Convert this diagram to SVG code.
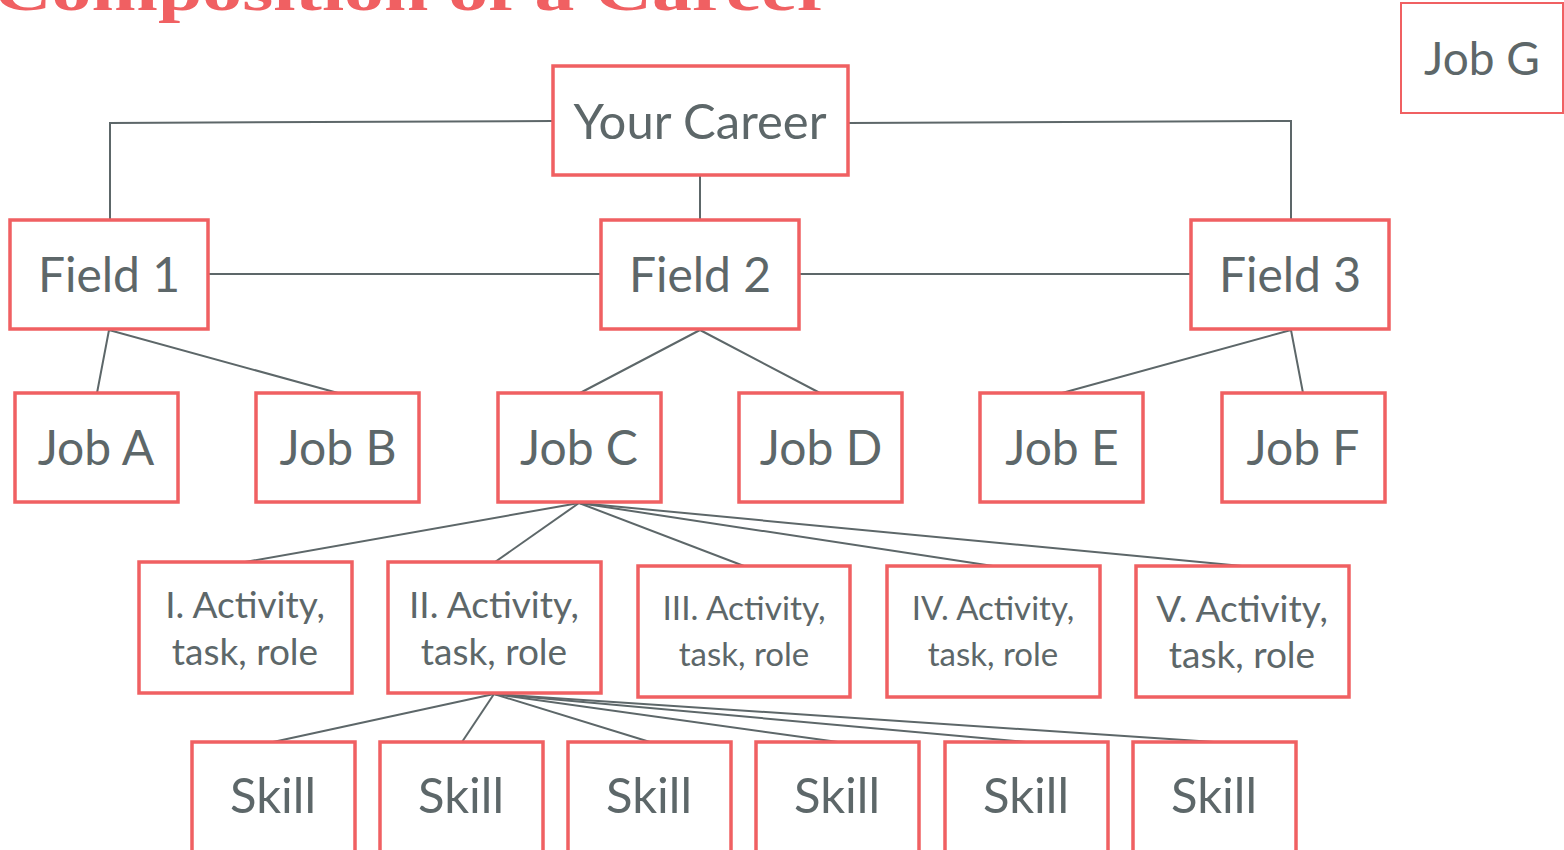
<svg xmlns="http://www.w3.org/2000/svg" width="1564" height="850" viewBox="0 0 1564 850">
<style>
.b{fill:#fff;stroke:#f06062;stroke-width:3.5}
.t{font-family:Lato,"Noto Sans",sans-serif;fill:#5d6769;text-anchor:middle}
.c{fill:none;stroke:#5d6769;stroke-width:2}
.title{font-family:"Liberation Serif",serif;font-weight:bold;fill:#f06062}
</style>
<rect width="1564" height="850" fill="#fff"/>
<text class="title" x="-6" y="10" font-size="60" textLength="838" lengthAdjust="spacingAndGlyphs">Composition of a Career</text>
<g id="connectors">
<polyline class="c" points="553,121 110,123 110,220"/>
<polyline class="c" points="848,123 1291,121 1291,220"/>
<line class="c" x1="700" y1="175" x2="700" y2="220"/>
<line class="c" x1="208" y1="274" x2="601" y2="274"/>
<line class="c" x1="799" y1="274" x2="1191" y2="274"/>
<polyline class="c" points="97,393 109,330 338,393"/>
<polyline class="c" points="580,393 700,330 820,393"/>
<polyline class="c" points="1062,393 1291,330 1303,393"/>
<line class="c" x1="579" y1="503" x2="245" y2="562"/>
<line class="c" x1="579" y1="503" x2="495" y2="562"/>
<line class="c" x1="579" y1="503" x2="744" y2="566"/>
<line class="c" x1="579" y1="503" x2="993" y2="566"/>
<line class="c" x1="579" y1="503" x2="1242" y2="566"/>
<line class="c" x1="494" y1="694" x2="273" y2="742"/>
<line class="c" x1="494" y1="694" x2="462" y2="742"/>
<line class="c" x1="494" y1="694" x2="650" y2="742"/>
<line class="c" x1="494" y1="694" x2="838" y2="742"/>
<line class="c" x1="494" y1="694" x2="1026" y2="742"/>
<line class="c" x1="494" y1="694" x2="1214" y2="742"/>
</g>
<g id="career"><rect class="b" x="553" y="66" width="295" height="109"/><text class="t" x="700" y="139" font-size="49">Your Career</text></g>
<g id="jobG"><rect class="b" x="1401" y="3" width="162" height="110" style="stroke-width:2"/><text class="t" x="1482" y="75" font-size="46">Job G</text></g>
<g id="field1"><rect class="b" x="10" y="220" width="198" height="109"/><text class="t" x="109" y="292" font-size="48">Field 1</text></g>
<g id="field2"><rect class="b" x="601" y="220" width="198" height="109"/><text class="t" x="700" y="292" font-size="48">Field 2</text></g>
<g id="field3"><rect class="b" x="1191" y="220" width="198" height="109"/><text class="t" x="1290" y="292" font-size="48">Field 3</text></g>
<g id="jobA"><rect class="b" x="15" y="393" width="163" height="109"/><text class="t" x="96" y="465" font-size="48">Job A</text></g>
<g id="jobB"><rect class="b" x="256" y="393" width="163" height="109"/><text class="t" x="338" y="465" font-size="48">Job B</text></g>
<g id="jobC"><rect class="b" x="498" y="393" width="163" height="109"/><text class="t" x="579" y="465" font-size="48">Job C</text></g>
<g id="jobD"><rect class="b" x="739" y="393" width="163" height="109"/><text class="t" x="821" y="465" font-size="48">Job D</text></g>
<g id="jobE"><rect class="b" x="980" y="393" width="163" height="109"/><text class="t" x="1062" y="465" font-size="48">Job E</text></g>
<g id="jobF"><rect class="b" x="1222" y="393" width="163" height="109"/><text class="t" x="1303" y="465" font-size="48">Job F</text></g>
<g id="act1"><rect class="b" x="139" y="562" width="213" height="131"/><text class="t" x="245" y="618" font-size="37">I. Activity,</text><text class="t" x="245" y="665" font-size="37">task, role</text></g>
<g id="act2"><rect class="b" x="388" y="562" width="213" height="131"/><text class="t" x="494" y="618" font-size="37">II. Activity,</text><text class="t" x="494" y="665" font-size="37">task, role</text></g>
<g id="act3"><rect class="b" x="638" y="566" width="212" height="131"/><text class="t" x="744" y="620" font-size="33" textLength="163" lengthAdjust="spacingAndGlyphs">III. Activity,</text><text class="t" x="744" y="666" font-size="33">task, role</text></g>
<g id="act4"><rect class="b" x="887" y="566" width="213" height="131"/><text class="t" x="993" y="620" font-size="33">IV. Activity,</text><text class="t" x="993" y="666" font-size="33">task, role</text></g>
<g id="act5"><rect class="b" x="1136" y="566" width="213" height="131"/><text class="t" x="1242" y="622" font-size="37">V. Activity,</text><text class="t" x="1242" y="668" font-size="37">task, role</text></g>
<g id="skill1"><rect class="b" x="192" y="742" width="163" height="120"/><text class="t" x="273" y="813" font-size="49">Skill</text></g>
<g id="skill2"><rect class="b" x="380" y="742" width="163" height="120"/><text class="t" x="461" y="813" font-size="49">Skill</text></g>
<g id="skill3"><rect class="b" x="568" y="742" width="163" height="120"/><text class="t" x="649" y="813" font-size="49">Skill</text></g>
<g id="skill4"><rect class="b" x="756" y="742" width="163" height="120"/><text class="t" x="837" y="813" font-size="49">Skill</text></g>
<g id="skill5"><rect class="b" x="945" y="742" width="163" height="120"/><text class="t" x="1026" y="813" font-size="49">Skill</text></g>
<g id="skill6"><rect class="b" x="1133" y="742" width="163" height="120"/><text class="t" x="1214" y="813" font-size="49">Skill</text></g>
</svg>
